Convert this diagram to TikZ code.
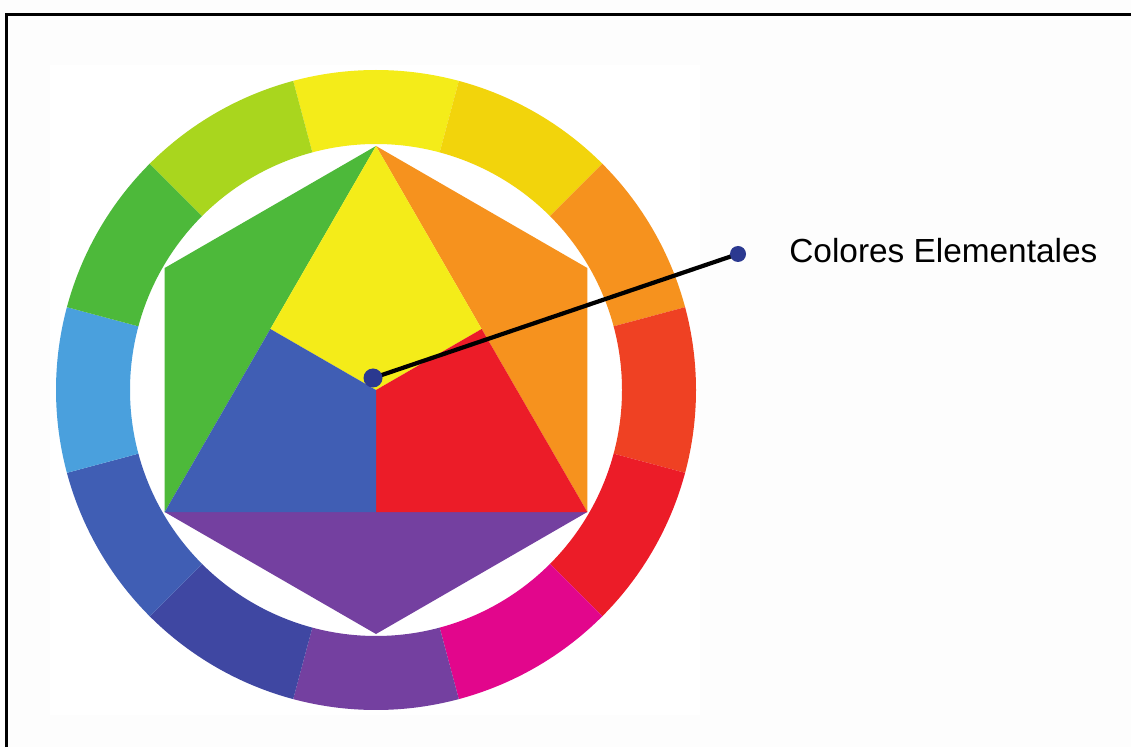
\documentclass[tikz,border=0pt]{standalone}
\usepackage{fontspec}
\setmainfont{Liberation Sans}
\usetikzlibrary{calc}

\definecolor{amarillo}{HTML}{F4EC19}
\definecolor{ambar}{HTML}{F2D40C}
\definecolor{naranja}{HTML}{F6921E}
\definecolor{rojonaranja}{HTML}{EF4123}
\definecolor{rojo}{HTML}{EC1C28}
\definecolor{magenta}{HTML}{E2068C}
\definecolor{violeta}{HTML}{7440A0}
\definecolor{indigo}{HTML}{3F47A2}
\definecolor{azul}{HTML}{405EB4}
\definecolor{celeste}{HTML}{4AA0DD}
\definecolor{verde}{HTML}{4DB93A}
\definecolor{limon}{HTML}{A9D61E}
\definecolor{punto}{HTML}{2B3990}

\begin{document}
\begin{tikzpicture}[x=0.02cm,y=0.02cm]
            % Page, background and frame
            \useasboundingbox (0,0) rectangle (1131,747);
            \fill[black!0.6] (0,0) rectangle (1131,747);
            \fill[white] (50,32) rectangle (700,682);
            \draw[line width=1.5pt] (6.7,0) -- (6.7,732.5) -- (1131,732.5);

            \begin{scope}[shift={(376,357)}]
            % Draw the outer ring of twelve colours
            \foreach \ang/\col in {90/amarillo,60/ambar,30/naranja,0/rojonaranja,
                    -30/rojo,-60/magenta,-90/violeta,-120/indigo,-150/azul,
                    180/celeste,150/verde,120/limon} {
                    \fill[\col] (\ang-15:246) -- (\ang-15:320)
                        arc[start angle=\ang-15, end angle=\ang+15, radius=320]
                        -- (\ang+15:246)
                        arc[start angle=\ang+15, end angle=\ang-15, radius=246] -- cycle;
                }

            % Corners of the hexagon
            \coordinate (arriba) at (90:244);
            \coordinate (supder) at (30:244);
            \coordinate (infder) at (-30:244);
            \coordinate (abajo) at (-90:244);
            \coordinate (infizq) at (210:244);
            \coordinate (supizq) at (150:244);
            \coordinate (medio) at (0,0);

            % Secondary triangles
            \fill[verde] (arriba) -- (supizq) -- (infizq) -- cycle;
            \fill[naranja] (arriba) -- (supder) -- (infder) -- cycle;
            \fill[violeta] (infizq) -- (abajo) -- (infder) -- cycle;

            % Primary colours inside the big triangle
            \fill[amarillo] (arriba) -- ($(arriba)!0.5!(infizq)$) -- (medio)
                -- ($(arriba)!0.5!(infder)$) -- cycle;
            \fill[rojo] ($(arriba)!0.5!(infder)$) -- (infder)
                -- ($(infizq)!0.5!(infder)$) -- (medio) -- cycle;
            \fill[azul] (medio) -- ($(infizq)!0.5!(infder)$) -- (infizq)
                -- ($(arriba)!0.5!(infizq)$) -- cycle;
            \end{scope}

            % Label with its pointer
            \coordinate (centro) at (373,369);
            \coordinate (punta) at (738,493);
            \draw[line width=2.4pt] (centro) -- (punta);
            \fill[punto] (centro) circle (9.5);
            \fill[punto] (punta) circle (8);
            \node[anchor=base west, inner sep=0pt, font=\fontsize{19}{23}\selectfont]
                (etiqueta) at (789,484.7) {Colores Elementales};
        \end{tikzpicture}
\end{document}
